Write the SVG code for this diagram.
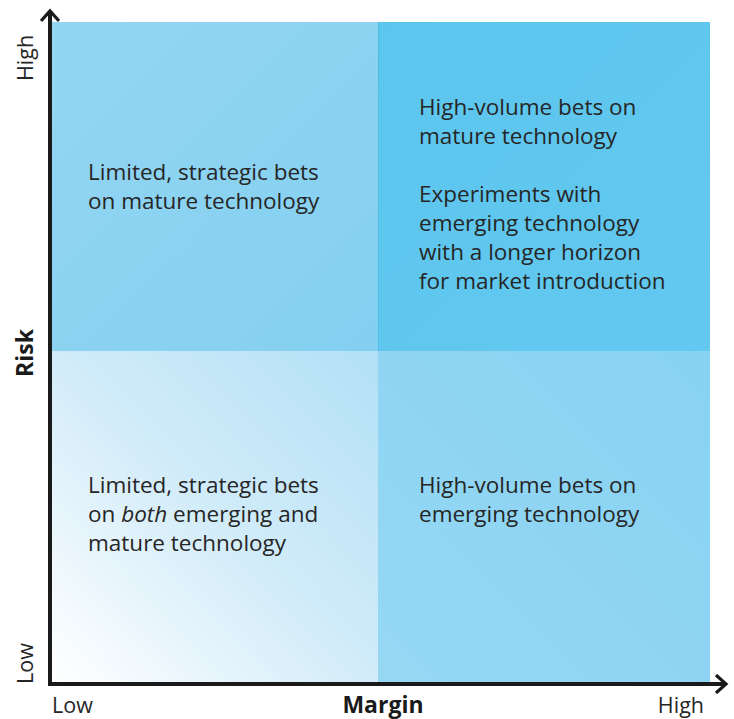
<svg xmlns="http://www.w3.org/2000/svg" width="734" height="719" viewBox="0 0 734 719">
  <style>
    .body { font-family: "Open Sans", "Liberation Sans", sans-serif; font-size: 22.5px; fill: #262626; }
    .tick { font-family: "Open Sans", "Liberation Sans", sans-serif; font-size: 21.5px; fill: #262626; }
    .title { font-family: "Open Sans", "Liberation Sans", sans-serif; font-size: 23px; font-weight: bold; fill: #1a1a1a; }
    .axis { stroke: #1a1a1a; stroke-width: 4; fill: none; }
  </style>
  <defs>
    <linearGradient id="gTL" x1="0" y1="0" x2="1" y2="1">
      <stop offset="0" stop-color="#93d6f3"/>
      <stop offset="1" stop-color="#84cff0"/>
    </linearGradient>
    <linearGradient id="gTR" x1="0" y1="0" x2="1" y2="1">
      <stop offset="0" stop-color="#5cc6ee"/>
      <stop offset="1" stop-color="#63c8ef"/>
    </linearGradient>
    <linearGradient id="gBR" x1="0" y1="1" x2="1" y2="0">
      <stop offset="0" stop-color="#96d8f4"/>
      <stop offset="1" stop-color="#88d2f2"/>
    </linearGradient>
    <linearGradient id="gBL" x1="0" y1="1" x2="1" y2="0">
      <stop offset="0" stop-color="#ffffff"/>
      <stop offset="0.5" stop-color="#d2ecf9"/>
      <stop offset="1" stop-color="#b2e0f6"/>
    </linearGradient>
    <marker id="arrow" viewBox="0 0 20 20" refX="14" refY="10" markerWidth="20" markerHeight="20" markerUnits="userSpaceOnUse" orient="auto">
      <path d="M4,1 L14,10 L4,19" fill="none" stroke="#1a1a1a" stroke-width="3.2"/>
    </marker>
  </defs>

  <!-- quadrants -->
  <g id="q-top-left">
    <rect x="52" y="22" width="326" height="329" fill="url(#gTL)"/>
    <text class="body" x="88" y="180">Limited, strategic bets</text>
    <text class="body" x="88" y="209">on mature technology</text>
  </g>
  <g id="q-top-right">
    <rect x="378" y="22" width="332" height="329" fill="url(#gTR)"/>
    <line x1="378.5" y1="22" x2="378.5" y2="351" stroke="#4fbde8" stroke-width="1"/>
    <text class="body" x="419" y="115">High-volume bets on</text>
    <text class="body" x="419" y="144">mature technology</text>
    <text class="body" x="419" y="202">Experiments with</text>
    <text class="body" x="419" y="231">emerging technology</text>
    <text class="body" x="419" y="260">with a longer horizon</text>
    <text class="body" x="419" y="289">for market introduction</text>
  </g>
  <g id="q-bottom-left">
    <rect x="52" y="351" width="326" height="333" fill="url(#gBL)"/>
    <text class="body" x="88" y="493">Limited, strategic bets</text>
    <text class="body" x="88" y="522">on <tspan font-style="italic">both</tspan> emerging and</text>
    <text class="body" x="88" y="551">mature technology</text>
  </g>
  <g id="q-bottom-right">
    <rect x="378" y="351" width="332" height="333" fill="url(#gBR)"/>
    <text class="body" x="419" y="493">High-volume bets on</text>
    <text class="body" x="419" y="522">emerging technology</text>
  </g>

  <!-- axes -->
  <g id="connectors">
    <path class="axis" d="M50,686 L50,11" marker-end="url(#arrow)"/>
    <path class="axis" d="M48,684 L726,684" marker-end="url(#arrow)"/>
  </g>

  <!-- axis labels -->
  <g id="labels">
    <text class="tick" transform="translate(33,81) rotate(-90)">High</text>
    <text class="tick" transform="translate(33,684) rotate(-90)">Low</text>
    <text class="title" text-anchor="middle" transform="translate(33,353) rotate(-90)">Risk</text>
    <text class="tick" x="52" y="713">Low</text>
    <text class="title" x="383" y="713" text-anchor="middle">Margin</text>
    <text class="tick" x="704" y="713" text-anchor="end">High</text>
  </g>
</svg>
